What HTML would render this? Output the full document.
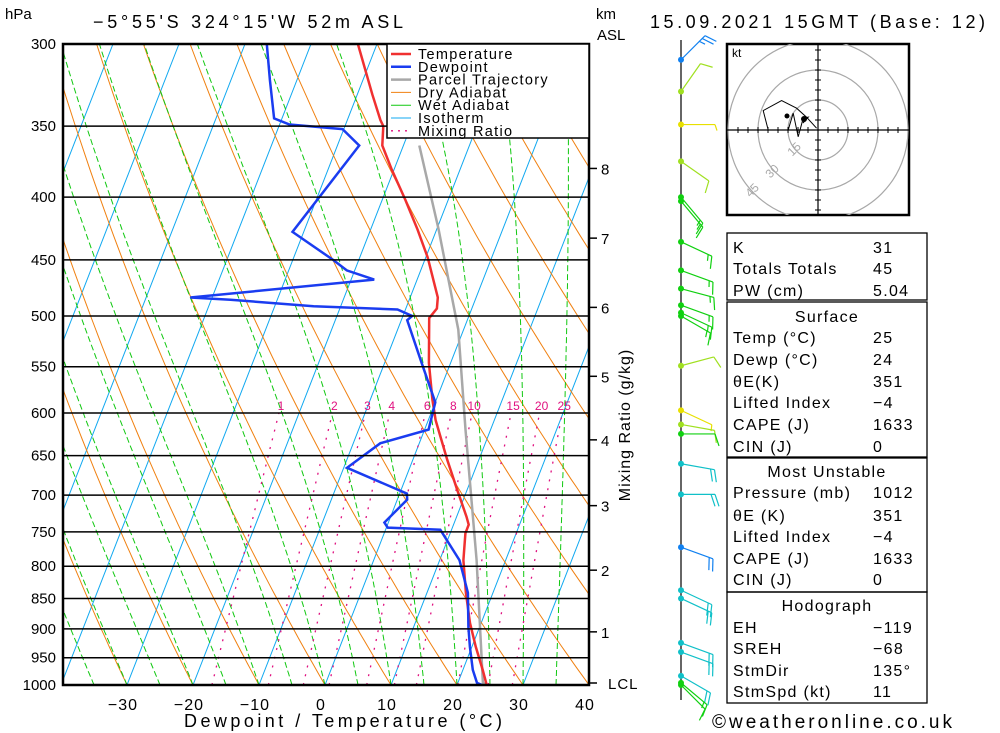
<!DOCTYPE html>
<html><head><meta charset="utf-8"><style>
html,body{margin:0;padding:0;background:#fff;}
svg{display:block;font-family:"Liberation Sans",sans-serif;}
</style></head><body>
<svg id="c" width="1000" height="733" viewBox="0 0 1000 733">
<defs><clipPath id="plotclip"><rect x="63" y="44" width="526" height="641"/></clipPath></defs>
<rect x="0" y="0" width="1000" height="733" fill="#fff"/>
<g id="bg" clip-path="url(#plotclip)"></g>
<g id="series" clip-path="url(#plotclip)"></g>
<g id="axes"></g>
<g id="legend"></g>
<g id="winds"></g>
<g id="hodo"></g>
<g id="table"></g>
<text x="5" y="19" font-size="15">hPa</text>
<text x="93" y="28" font-size="18" textLength="310" lengthAdjust="spacing">−5°55'S 324°15'W 52m ASL</text>
<text x="596" y="19" font-size="15">km</text>
<text x="597" y="40" font-size="15">ASL</text>
<text x="650" y="28" font-size="18" textLength="335" lengthAdjust="spacing">15.09.2021 15GMT (Base: 12)</text>
<text x="184" y="727" font-size="18" textLength="318" lengthAdjust="spacing">Dewpoint / Temperature (°C)</text>
<text x="0" y="0" font-size="16" text-anchor="middle" letter-spacing="1" transform="translate(630,425) rotate(-90)">Mixing Ratio (g/kg)</text>
<text x="712" y="728" font-size="19" textLength="240" lengthAdjust="spacing">©weatheronline.co.uk</text>
</svg>
<script>
// ---- data ----
const tempP=[300,330,346,350,363,380,402,425,448,483,493,502,546,585,608,655,693,729,740,752,791,841,890,931,972,1000];
const tempT=[-32.9,-27.7,-25.0,-24.2,-23.2,-20.3,-16.5,-12.9,-9.7,-5.8,-5.3,-5.9,-3.3,-0.6,1.1,5.2,8.5,11.5,12.3,12.3,13.6,15.9,18.3,20.6,23.0,24.5];
const dewP=[300,321,345,349,352,363,427,450,459,467,483,485,491,494,500,504,546,588,619,635,665,698,706,737,744,747,791,841,897,931,972,996,1000];
const dewT=[-46.7,-44.1,-41.2,-38.5,-30.2,-26.7,-31.7,-23.9,-21.2,-16.5,-43.3,-37.1,-24.1,-11.2,-8.6,-9.1,-4.4,0.0,0.6,-5.9,-9.5,1.1,1.5,-0.6,0.2,8.3,13.0,16.2,18.3,19.7,21.5,22.9,23.8];
const parP=[363,425,513,619,791,996,1000];
const parT=[-17.6,-9.7,-0.8,6.2,15.6,23.8,24.5];
const windP=[309,328,349,374,400,403,435,459,475,490,497,500,549,597,613,624,660,699,772,837,850,924,940,983,996,1000];
const windDir=[45,35,90,125,140,140,115,110,105,110,115,120,75,115,100,90,100,90,110,115,115,110,110,120,130,135];
const windSpd=[25,10,4,10,15,15,15,15,15,15,15,15,10,5,8,12,20,20,22,20,20,20,20,20,15,12];
const hodoU=[-0.7,-5.7,-10.7,-18.2,-27.4,-24.9,-14.9,-12.4,-9.9,-7.4,-4.9,-7.5];
const hodoV=[0.9,6.4,10.9,14.7,9.7,0,0,8.4,-3.4,5.9,6.4,3.5];
const pLevels=[300,350,400,450,500,550,600,650,700,750,800,850,900,950,1000];
const tTicks=[-30,-20,-10,0,10,20,30,40];
const mixR=[1,2,3,4,6,8,10,15,20,25];
const kmVals=[8,7,6,5,4,3,2,1];
const kmP=[379,432,492,560,631,714,806,905];

// ---- axes ----
const NS="http://www.w3.org/2000/svg";
function yP(p){return 44+Math.log(p/300)/Math.log(1000/300)*641;}
function xT(t,p){return 325+6.6*t+0.39*(685-yP(p));}
function mk(tag,attrs,parent){const e=document.createElementNS(NS,tag);for(const k in attrs)e.setAttribute(k,attrs[k]);parent.appendChild(e);return e;}
function poly(ps,ts,parent,stroke,w,dash){let d="";for(let i=0;i<ps.length;i++){d+=(i?"L":"M")+xT(ts[i],ps[i]).toFixed(1)+","+yP(ps[i]).toFixed(1);}const a={d:d,fill:"none",stroke:stroke,"stroke-width":w};if(dash)a["stroke-dasharray"]=dash;return mk("path",a,parent);}
const bg=document.getElementById("bg");
for(let t=-120;t<=40;t+=10){const e=poly([300,1000],[t,t],bg,"#10a8f0",1);

}
for(let th=-40;th<=160;th+=10){const ps=[],ts=[];for(let p=1000;p>=300;p-=10){ps.push(p);ts.push((th+273.15)*Math.pow(p/1000,0.286)-273.15);}
const e=poly(ps,ts,bg,"#f08010",1);

}
function es(t){return 6.112*Math.exp(17.67*t/(t+243.5));}
for(let t0=-40;t0<=35;t0+=5){let T=t0+273.15;const ps=[],ts=[];for(let p=1000;p>=300;p-=5){ps.push(p);ts.push(T-273.15);const e=es(T-273.15),rs=0.622*e/(p-e);const Rd=287,cp=1004,Lv=2.5e6;const dTdp=(Rd*T+Lv*rs)/(p*(cp+Lv*Lv*rs*0.622/(Rd*T*T)));T-=dTdp*5;}
const e=poly(ps,ts,bg,"#10c810",1,"6,3");

}
function tdFromW(w,p){const e=w*p/(622+w);const l=Math.log(e/6.112);return 243.5*l/(17.67-l);}
const ax=document.getElementById("axes");
mixR.forEach(w=>{const ps=[],ts=[];for(let p=1000;p>=600;p-=20){ps.push(p);ts.push(tdFromW(w,p));}
const e=poly(ps,ts,bg,"#e0107f",1.3,"2,7");


const lb=mk("text",{x:xT(tdFromW(w,600),600)+2,y:yP(600)-3,"font-size":12,fill:"#e0107f","text-anchor":"middle"},ax);lb.textContent=w;

});
pLevels.forEach(p=>{const y=yP(p);const l=mk("line",{x1:63,x2:589,y1:y,y2:y,stroke:"#000","stroke-width":1.5},ax);


const t=mk("text",{x:56,y:y+5,"font-size":15,"text-anchor":"end"},ax);t.textContent=p;

});
tTicks.forEach(v=>{const t=mk("text",{x:xT(v,1000)-4,y:710,"font-size":16,"text-anchor":"middle","letter-spacing":1},ax);t.textContent=v<0?"−"+(-v):v;

});
kmVals.forEach((k,i)=>{const y=yP(kmP[i]);mk("line",{x1:589,x2:597,y1:y,y2:y,stroke:"#000","stroke-width":1.5},ax);const t=mk("text",{x:601,y:y+6,"font-size":15},ax);t.textContent=k;

});
mk("line",{x1:589,x2:597,y1:683,y2:683,stroke:"#000","stroke-width":1.5},ax);
{const t=mk("text",{x:608,y:689,"font-size":15,"letter-spacing":1},ax);t.textContent="LCL";

}
{const r=mk("rect",{x:63,y:44,width:526,height:641,fill:"none",stroke:"#000","stroke-width":2.5},ax);

}
const sr=document.getElementById("series");
{const e=poly(parP,parT,sr,"#a8a8a8",2.5);

}
{const e=poly(tempP,tempT,sr,"#f03030",2.5);

}
{const e=poly(dewP,dewT,sr,"#1a3cf0",2.5);

}
const lg=document.getElementById("legend");
mk("rect",{x:387,y:44,width:202,height:94,fill:"#fff",stroke:"#000","stroke-width":1.5},lg);
const legNames=["Temperature","Dewpoint","Parcel Trajectory","Dry Adiabat","Wet Adiabat","Isotherm","Mixing Ratio"];
const legCols=["#f03030","#1a3cf0","#a8a8a8","#f08010","#10c810","#10a8f0","#e0107f"];
const legW=[2.5,2.5,2.5,1,1,1,1.3];
legNames.forEach((n,i)=>{const y=54+i*12.8;const l=mk("line",{x1:391,x2:411,y1:y,y2:y,stroke:legCols[i],"stroke-width":legW[i]},lg);if(i==6)l.setAttribute("stroke-dasharray","2,5");
const t=mk("text",{x:418,y:y+5,"font-size":14.5,"letter-spacing":1.3},lg);t.textContent=n;

});
const wd=document.getElementById("winds");
mk("line",{x1:681,x2:681,y1:40,y2:700,stroke:"#000","stroke-width":1.2},wd);
function wcol(s){return s<=5?"#e8e000":s<=10?"#a0e020":s<=15?"#10d010":s<=20?"#10c0c8":"#1080f0";}
windP.forEach((p,i)=>{const y=yP(p),d=windDir[i]*Math.PI/180,s=windSpd[i],c=wcol(s);
const g=mk("g",{},wd);


const ux=Math.sin(d),uy=-Math.cos(d),L=34;const ex=681+ux*L,ey=y+uy*L;
mk("line",{x1:681,y1:y,x2:ex,y2:ey,stroke:c,"stroke-width":1.2},g);
let rem=s,pos=0;const px=-uy,py=ux;
while(rem>=7.5){const bx=ex-ux*pos,by=ey-uy*pos;mk("line",{x1:bx,y1:by,x2:bx+px*12+ux*4,y2:by+py*12+uy*4,stroke:c,"stroke-width":1.2},g);rem-=10;pos+=4;}
if(rem>=2.5){const bx=ex-ux*pos,by=ey-uy*pos;mk("line",{x1:bx,y1:by,x2:bx+px*6+ux*2,y2:by+py*6+uy*2,stroke:c,"stroke-width":1.2},g);}
mk("circle",{cx:681,cy:y,r:3,fill:c},g);});
const hd=document.getElementById("hodo");
mk("rect",{x:727,y:44,width:182,height:171,fill:"#fff",stroke:"#000","stroke-width":2.5},hd);
const cx=818,cy=130;
const defs=document.querySelector("defs");const cp=mk("clipPath",{id:"hclip"},defs);mk("rect",{x:727,y:44,width:182,height:171},cp);
const hc=mk("g",{"clip-path":"url(#hclip)"},hd);
[15,30,45].forEach(r=>{mk("circle",{cx:cx,cy:cy,r:r*2,fill:"none",stroke:"#a8a8a8","stroke-width":1.2},hc);});
[[15,797,152],[30,775,174],[45,755,193]].forEach(a=>{const t=mk("text",{x:a[1],y:a[2],"font-size":12,fill:"#a8a8a8","text-anchor":"middle",transform:"rotate(-45 "+a[1]+" "+a[2]+")"},hd);t.textContent=a[0];});
mk("line",{x1:727,x2:909,y1:cy,y2:cy,stroke:"#000","stroke-width":1.2},hc);
mk("line",{x1:cx,x2:cx,y1:44,y2:215,stroke:"#000","stroke-width":1.2},hc);
for(let k=-40;k<=40;k+=5){if(k==0)continue;mk("line",{x1:cx+k*2,x2:cx+k*2,y1:cy-3,y2:cy+3,stroke:"#000"},hc);mk("line",{y1:cy+k*2,y2:cy+k*2,x1:cx-3,x2:cx+3,stroke:"#000"},hc);}
{const t=mk("text",{x:732,y:57,"font-size":12},hd);t.textContent="kt";}
{let d="";hodoU.forEach((u,i)=>{d+=(i?"L":"M")+(cx+u*2)+","+(cy-hodoV[i]*2);});const e=mk("path",{d:d,fill:"none",stroke:"#000","stroke-width":1},hd);

}
mk("circle",{cx:787,cy:116,r:2.5,fill:"#000"},hd);mk("circle",{cx:804,cy:119,r:3,fill:"#000"},hd);
const tb=document.getElementById("table");
[[233,300],[302,457],[458,592],[592,703]].forEach(b=>mk("rect",{x:727,y:b[0],width:200,height:b[1]-b[0],fill:"none",stroke:"#000","stroke-width":1.3},tb));
const rows=[["K","31",247],["Totals Totals","45",268],["PW (cm)","5.04",290],["#Surface","",316],["Temp (°C)","25",337],["Dewp (°C)","24",359],["θE(K)","351",381],["Lifted Index","−4",402],["CAPE (J)","1633",424],["CIN (J)","0",446],["#Most Unstable","",471],["Pressure (mb)","1012",492],["θE (K)","351",515],["Lifted Index","−4",536],["CAPE (J)","1633",558],["CIN (J)","0",579],["#Hodograph","",605],["EH","−119",627],["SREH","−68",648],["StmDir","135°",670],["StmSpd (kt)","11",691]];
rows.forEach(r=>{if(r[0][0]=="#"){const t=mk("text",{x:827,y:r[2]+6,"font-size":16,"text-anchor":"middle","letter-spacing":1.3},tb);t.textContent=r[0].slice(1);

return;}
const t=mk("text",{x:733,y:r[2]+6,"font-size":16,"letter-spacing":1.3},tb);t.textContent=r[0];


const v=mk("text",{x:873,y:r[2]+6,"font-size":16,"letter-spacing":1.3},tb);v.textContent=r[1];

});
</script>
</body></html>
